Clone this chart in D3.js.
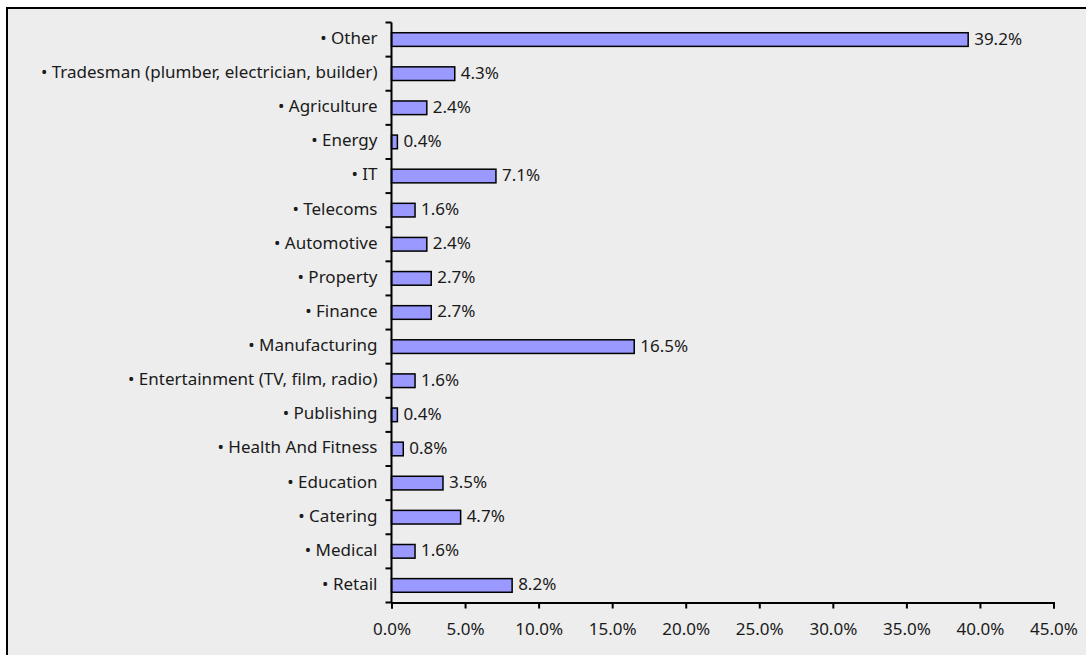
<!DOCTYPE html>
<html>
<head>
<meta charset="utf-8">
<script src="https://cdn.jsdelivr.net/npm/d3@7"></script>
<style>
  html, body { margin: 0; padding: 0; background: #ffffff; }
  svg { display: block; }
  text { font-family: "Noto Sans", "Liberation Sans", Arial, sans-serif; fill: #1a1a1a; }
</style>
</head>
<body>
<svg id="chart" width="1086" height="655"></svg>
<script>
// Sectors, listed top to bottom
const categories = [
  "• Other",
  "• Tradesman (plumber, electrician, builder)",
  "• Agriculture",
  "• Energy",
  "• IT",
  "• Telecoms",
  "• Automotive",
  "• Property",
  "• Finance",
  "• Manufacturing",
  "• Entertainment (TV, film, radio)",
  "• Publishing",
  "• Health And Fitness",
  "• Education",
  "• Catering",
  "• Medical",
  "• Retail"
];
// Share of respondents, percent
const shares = [39.2, 4.3, 2.4, 0.4, 7.1, 1.6, 2.4, 2.7, 2.7, 16.5, 1.6, 0.4, 0.8, 3.5, 4.7, 1.6, 8.2];
const xTicks = [0, 5, 10, 15, 20, 25, 30, 35, 40, 45];

const FONT_SIZE = 17;
const svg = d3.select("#chart");

// Panel with border
svg.append("rect")
  .attr("x", 7).attr("y", 8)
  .attr("width", 1086).attr("height", 655)
  .attr("fill", "#ededed")
  .attr("stroke", "#000").attr("stroke-width", 2);

const plotLeft = 391.5, plotRight = 1053.5, plotTop = 22.5, plotBottom = 602.5;

const x = d3.scaleLinear().domain([0, 45]).range([plotLeft, plotRight]);
const y = d3.scaleBand().domain(categories).range([plotTop, plotBottom]).paddingInner(0.6).paddingOuter(0.3);

// Bars
svg.append("g").selectAll("rect")
  .data(categories)
  .join("rect")
  .attr("x", x(0))
  .attr("y", (d) => y(d))
  .attr("width", (d, i) => x(shares[i]) - x(0))
  .attr("height", y.bandwidth())
  .attr("fill", "#9999ff")
  .attr("stroke", "#000")
  .attr("stroke-width", 1.5);

// Value labels
svg.append("g").selectAll("text")
  .data(categories)
  .join("text")
  .attr("x", (d, i) => x(shares[i]) + 6)
  .attr("y", (d) => y(d) + y.bandwidth() / 2 - 1)
  .attr("dy", "0.35em")
  .attr("font-size", FONT_SIZE)
  .text((d, i) => shares[i].toFixed(1) + "%");

// Category axis: ticks sit on band boundaries
const yAxis = svg.append("g");
yAxis.append("line")
  .attr("x1", plotLeft).attr("x2", plotLeft)
  .attr("y1", plotTop).attr("y2", plotBottom)
  .attr("stroke", "#000").attr("stroke-width", 2);
const boundaries = d3.range(categories.length + 1)
  .map((i) => plotTop + i * (plotBottom - plotTop) / categories.length);
yAxis.selectAll("line.tick")
  .data(boundaries)
  .join("line")
  .attr("class", "tick")
  .attr("x1", plotLeft - 6).attr("x2", plotLeft)
  .attr("y1", (d) => d).attr("y2", (d) => d)
  .attr("stroke", "#000").attr("stroke-width", 2);
yAxis.selectAll("text")
  .data(categories)
  .join("text")
  .attr("x", plotLeft - 14)
  .attr("y", (d, i) => (boundaries[i] + boundaries[i + 1]) / 2 - 1.5)
  .attr("dy", "0.35em")
  .attr("text-anchor", "end")
  .attr("font-size", FONT_SIZE)
  .text((d) => d);

// Value axis
const xAxis = svg.append("g")
  .attr("transform", `translate(0,${plotBottom})`)
  .call(d3.axisBottom(x).tickValues(xTicks).tickSize(6).tickSizeOuter(6).tickPadding(14)
    .tickFormat((d) => d.toFixed(1) + "%"));
xAxis.select(".domain").attr("stroke", "#000").attr("stroke-width", 2);
xAxis.selectAll(".tick line").attr("stroke", "#000").attr("stroke-width", 2);
xAxis.selectAll(".tick text")
  .attr("font-size", FONT_SIZE)
  .attr("font-family", "Noto Sans, Liberation Sans, Arial, sans-serif")
  .attr("fill", "#1a1a1a");
</script>
</body>
</html>
